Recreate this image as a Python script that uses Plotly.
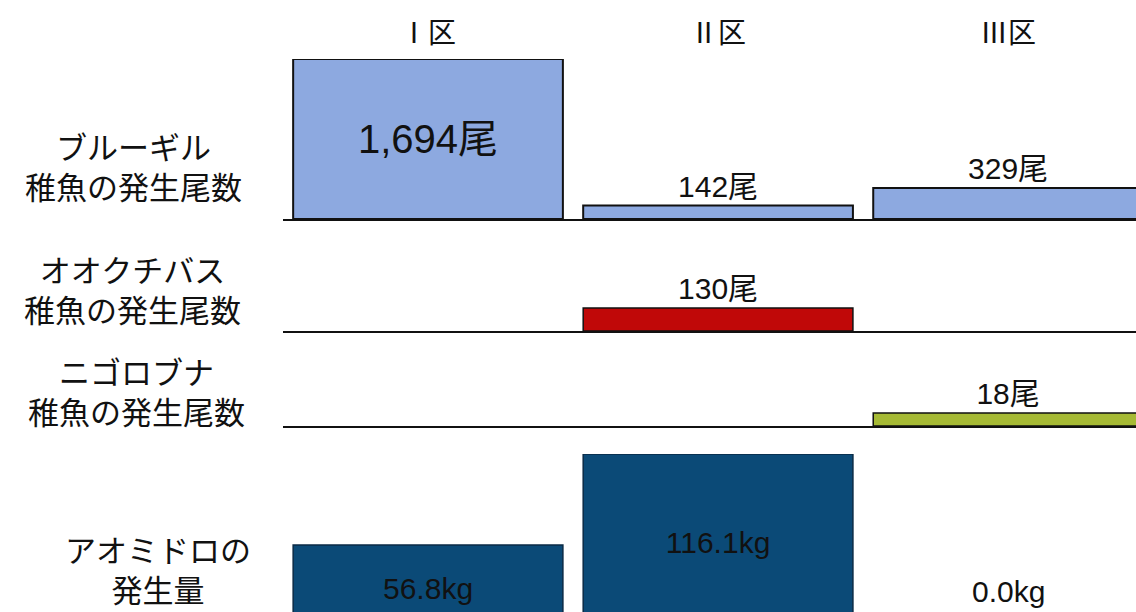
import plotly.graph_objects as go

# ---- data ----
areas = ["Ⅰ区", "Ⅱ区", "Ⅲ区"]
bluegill = [1694, 142, 329]          # 尾
largemouth = [None, 130, None]       # 尾
nigorobuna = [None, None, 18]        # 尾
aomidoro = [56.8, 116.1, 0.0]        # kg

row_labels = [
    ["ブルーギル", "稚魚の発生尾数"],
    ["オオクチバス", "稚魚の発生尾数"],
    ["ニゴロブナ", "稚魚の発生尾数"],
    ["アオミドロの", "発生量"],
]

W, H = 1136, 612
ML = 283
PW = W - ML
NUMFONT = "Liberation Sans, Noto Sans CJK JP, sans-serif"
JPFONT = "Noto Sans CJK JP, sans-serif"

def py(px):
    return 1 - px / H

def pxx(px):
    return (px - ML) / PW

def fish_text(vals):
    return ["" if v is None else f"{v:,}尾" for v in vals]

fig = go.Figure()

# row 1: bluegill
fig.add_trace(go.Bar(
    x=areas, y=bluegill, xaxis="x", yaxis="y",
    marker=dict(color="#8DA9E0", line=dict(color="#111111", width=2)),
    width=0.93, text=fish_text(bluegill),
    textposition=["inside", "outside", "outside"],
    insidetextanchor="middle",
    insidetextfont=dict(size=40, color="#111111", family=NUMFONT),
    outsidetextfont=dict(size=30, color="#111111", family=NUMFONT),
    cliponaxis=False,
))
# row 2: largemouth bass
fig.add_trace(go.Bar(
    x=areas, y=largemouth, xaxis="x2", yaxis="y2",
    marker=dict(color="#C00808", line=dict(color="#111111", width=1.5)),
    width=0.93, text=fish_text(largemouth), textposition="outside",
    outsidetextfont=dict(size=30, color="#111111", family=NUMFONT),
    cliponaxis=False,
))
# row 3: nigorobuna
fig.add_trace(go.Bar(
    x=areas, y=nigorobuna, xaxis="x3", yaxis="y3",
    marker=dict(color="#A6BA35", line=dict(color="#111111", width=1.5)),
    width=0.93, text=fish_text(nigorobuna), textposition="outside",
    outsidetextfont=dict(size=30, color="#111111", family=NUMFONT),
    cliponaxis=False,
))
# row 4: aomidoro
fig.add_trace(go.Bar(
    x=areas, y=aomidoro, xaxis="x4", yaxis="y4",
    marker=dict(color="#0B4A77", line=dict(color="#0A2A45", width=1.5)),
    width=0.93,
    text=[f"{v:.1f}kg" if v > 0 else "" for v in aomidoro],
    textposition="inside", insidetextanchor="middle",
    insidetextfont=dict(size=30, color="#111111", family=NUMFONT),
    cliponaxis=False,
))

xr = [-0.5, 2.441]
xcommon = dict(range=xr, showticklabels=False, ticks="", showgrid=False,
               zeroline=False, showline=True, linecolor="#111111", linewidth=2,
               fixedrange=True)
ycommon = dict(showticklabels=False, ticks="", showgrid=False, zeroline=False,
               showline=False, fixedrange=True)

layout = dict(
    width=W, height=H, margin=dict(l=ML, r=0, t=0, b=0),
    paper_bgcolor="white", plot_bgcolor="white", showlegend=False,
    xaxis=dict(**xcommon, anchor="y"),
    xaxis2=dict(**xcommon, anchor="y2"),
    xaxis3=dict(**xcommon, anchor="y3"),
    xaxis4=dict(**{**xcommon, "showline": False}, anchor="y4"),
    yaxis=dict(**ycommon, domain=[py(219), py(59)], range=[0, 1694], anchor="x"),
    yaxis2=dict(**ycommon, domain=[py(331), py(270)], range=[0, 345], anchor="x2"),
    yaxis3=dict(**ycommon, domain=[py(426), py(370)], range=[0, 77.5], anchor="x3"),
    # baseline of the bottom row lies just below the visible canvas
    yaxis4=dict(**ycommon, domain=[0, py(454)], range=[13.0, 116.1], anchor="x4"),
)
fig.update_layout(**layout)

ann = []
# column headers
for a in areas:
    ann.append(dict(x=a, xref="x", y=py(31), yref="paper", text=a,
                    showarrow=False, font=dict(size=28, color="#111111", family=JPFONT),
                    xanchor="center", yanchor="middle"))
# row labels (two lines each)
label_pos = [
    (133, 166),
    (132, 288),
    (136, 391),
    (158, 568),
]
for (xc, yc), lines in zip(label_pos, row_labels):
    ann.append(dict(x=pxx(xc), xref="paper", y=py(yc), yref="paper",
                    text="<br>".join(lines), align="center",
                    showarrow=False, font=dict(size=31, color="#111111", family=JPFONT),
                    xanchor="center", yanchor="middle"))
# zero-valued aomidoro label (its bar sits below the visible area)
for a, v in zip(areas, aomidoro):
    if v == 0:
        ann.append(dict(x=a, xref="x4", y=py(591), yref="paper", text=f"{v:.1f}kg",
                        showarrow=False, yanchor="middle",
                        font=dict(size=30, color="#111111", family=NUMFONT)))
fig.update_layout(annotations=ann)

fig.write_html("out.html", config={"displayModeBar": False},
               post_script="document.body.style.margin='0';document.body.style.overflow='hidden';")
